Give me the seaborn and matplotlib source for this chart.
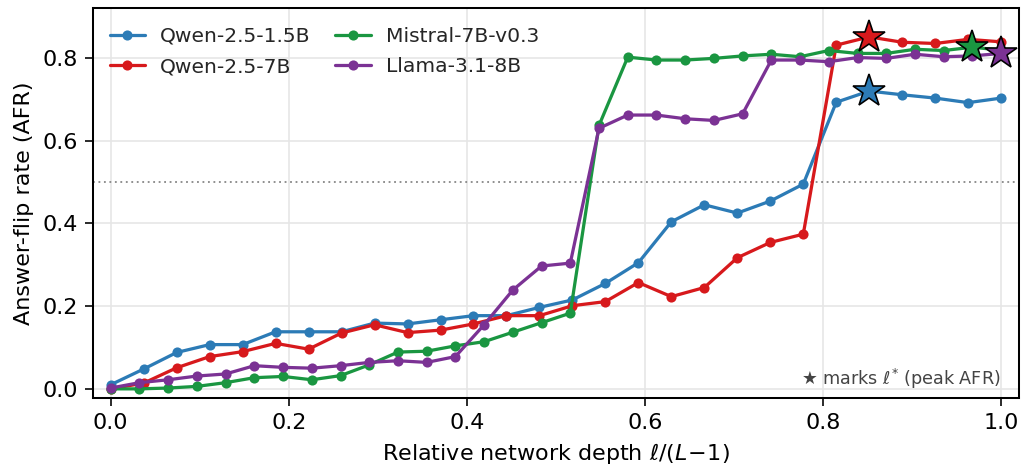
import numpy as np
import pandas as pd
import matplotlib
matplotlib.use("Agg")
import matplotlib.pyplot as plt
import seaborn as sns

# Answer-flip rate per layer (Qwen models: 28 layers, Mistral/Llama: 32 layers)
qwen_15b = [0.010, 0.048, 0.088, 0.107, 0.107, 0.138, 0.138, 0.138, 0.159, 0.157,
            0.167, 0.177, 0.177, 0.197, 0.215, 0.255, 0.305, 0.404, 0.445, 0.425,
            0.454, 0.495, 0.693, 0.720, 0.711, 0.703, 0.692, 0.703]
qwen_7b = [0.000, 0.014, 0.051, 0.078, 0.090, 0.110, 0.096, 0.135, 0.155, 0.136,
           0.142, 0.157, 0.177, 0.177, 0.201, 0.211, 0.257, 0.223, 0.245, 0.317,
           0.354, 0.374, 0.831, 0.851, 0.838, 0.835, 0.845, 0.839]
mistral_7b = [0.000, 0.000, 0.002, 0.006, 0.015, 0.027, 0.030, 0.022, 0.032, 0.058,
              0.089, 0.091, 0.104, 0.114, 0.137, 0.160, 0.183, 0.637, 0.802, 0.795,
              0.795, 0.799, 0.805, 0.809, 0.803, 0.818, 0.811, 0.811, 0.821, 0.818,
              0.826, 0.819]
llama_8b = [0.002, 0.015, 0.022, 0.031, 0.036, 0.056, 0.052, 0.050, 0.056, 0.064,
            0.068, 0.064, 0.078, 0.155, 0.239, 0.297, 0.304, 0.630, 0.662, 0.662,
            0.653, 0.649, 0.665, 0.795, 0.795, 0.791, 0.801, 0.799, 0.809, 0.803,
            0.805, 0.811]

model_names = ["Qwen-2.5-1.5B", "Qwen-2.5-7B", "Mistral-7B-v0.3", "Llama-3.1-8B"]
model_values = [qwen_15b, qwen_7b, mistral_7b, llama_8b]
model_colors = ["#2c7bb6", "#d7191c", "#1a9641", "#7b3294"]

x_ticks = [0.0, 0.2, 0.4, 0.6, 0.8, 1.0]
y_ticks = [0.0, 0.2, 0.4, 0.6, 0.8]

# Long table: relative depth l/(L-1) for every layer of every model
frames = []
for name, vals in zip(model_names, model_values):
    n = len(vals)
    frames.append(pd.DataFrame({"model": name,
                                "depth": np.arange(n) / (n - 1),
                                "afr": vals}))
df = pd.concat(frames, ignore_index=True)

sns.set_theme(style="ticks")
plt.rcParams["font.family"] = ["DejaVu Sans"]
plt.rcParams["mathtext.fontset"] = "dejavusans"

fig = plt.figure(figsize=(1021 / 146, 466 / 146), dpi=146)
ax = fig.add_axes([0.091, 0.146, 0.907, 0.837])

palette = dict(zip(model_names, model_colors))
sns.lineplot(data=df, x="depth", y="afr", hue="model", hue_order=model_names,
             palette=palette, marker="o", markersize=5, markeredgewidth=0,
             linewidth=1.6, ax=ax, legend=False, zorder=3)

# Peak layer l* per model
for name, color in zip(model_names, model_colors):
    sub = df[df["model"] == name]
    i = sub["afr"].values.argmax()
    ax.plot(sub["depth"].values[i], sub["afr"].values[i], marker="*",
            markersize=17, color=color, markeredgecolor="black",
            markeredgewidth=0.8, linestyle="none", zorder=5)

ax.axhline(0.5, color="#888888", linestyle=(0, (1, 2)), linewidth=0.9, zorder=1)

ax.set_xlim(-0.02, 1.02)
ax.set_ylim(-0.022, 0.921)
ax.set_xticks(x_ticks)
ax.set_yticks(y_ticks)
ax.set_xticklabels([f"{v:.1f}" for v in x_ticks])
ax.set_yticklabels([f"{v:.1f}" for v in y_ticks])
ax.tick_params(labelsize=11, length=4, width=0.8, color="black", labelcolor="black")
ax.grid(True, color="#e6e6e6", linewidth=0.8, zorder=0)
ax.set_axisbelow(True)
for sp in ax.spines.values():
    sp.set_color("black")
    sp.set_linewidth(1.0)

ax.set_xlabel(r"Relative network depth $\ell/(L\!-\!1)$", fontsize=11, color="black")
ax.set_ylabel("Answer-flip rate (AFR)", fontsize=11, color="black")

handles = [plt.Line2D([], [], color=c, marker="o", markersize=5, markeredgewidth=0,
                      linewidth=1.6) for c in model_colors]
ax.legend(handles, model_names, loc="upper left", bbox_to_anchor=(0.0, 0.995),
          ncol=2, frameon=False, fontsize=10, handlelength=1.73,
          handletextpad=0.74, columnspacing=1.23, labelspacing=0.55,
          borderaxespad=0.44)

ax.text(0.98, 0.017, r"★ marks $\ell^{*}$ (peak AFR)", transform=ax.transAxes,
        ha="right", va="bottom", fontsize=8.7, color="#444444")

fig.savefig("out.png", dpi=146)
